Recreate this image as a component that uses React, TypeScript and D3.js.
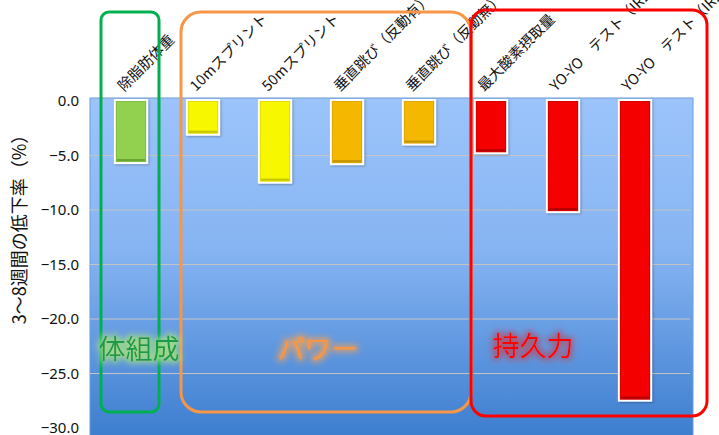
import React from "react";
import * as d3 from "d3";

const categories = [
  "除脂肪体重",
  "10mスプリント",
  "50mスプリント",
  "垂直跳び（反動有）",
  "垂直跳び（反動無）",
  "最大酸素摂取量",
  "YO-YO　テスト（IR2）",
  "YO-YO　テスト（IR2）",
];
const values = [-5.6, -3.0, -7.4, -5.7, -3.9, -4.7, -10.1, -27.4];
const barColors = ["#92D050", "#F7F700", "#F7F700", "#F5B800", "#F5B800", "#F50000", "#F50000", "#F50000"];
const bevelColors = ["#5E9A2C", "#B8B800", "#B8B800", "#B88A00", "#B88A00", "#A00000", "#A00000", "#A00000"];
const yTicks = [0, -5, -10, -15, -20, -25, -30];
const groups = [
  { name: "体組成", from: 0, to: 0, color: "#00B050", text: "#1A9A4A", glow: "#A6E27E" },
  { name: "パワー", from: 1, to: 4, color: "#F79646", text: "#F79646", glow: "#F7A050" },
  { name: "持久力", from: 5, to: 7, color: "#FF0000", text: "#FF0000", glow: "#B0506A" },
];

const W = 719;
const H = 435;
const plot = { left: 90, right: 693, top: 98, bottom: 436 };

export default function App() {
  const x = d3.scaleBand<number>().domain(d3.range(categories.length)).range([95, 671]).paddingInner(0.58).paddingOuter(0.29);
  const y = d3.scaleLinear().domain([-30, 0]).range([428, 101]);
  const bw = x.bandwidth();
  const cx = (i: number) => (x(i) as number) + bw / 2;
  const boxPad = [
    { l: 30, r: 28, t: 12, b: 412, rx: 8 },
    { l: 22, r: 52, t: 12, b: 412, rx: 20 },
    { l: 20, r: 72, t: 10, b: 416, rx: 15 },
  ];
  const labelPos = [
    { dx: 9, y: 350 },
    { dx: -8, y: 350 },
    { dx: -56, y: 347 },
  ];
  return (
    <svg width={W} height={H} style={{ position: "absolute", left: 0, top: 0, background: "#fff" }}
      fontFamily="'Noto Sans CJK JP', 'Noto Sans', sans-serif">
      <defs>
        <linearGradient id="bg" x1="0" y1="0" x2="0" y2="1">
          <stop offset="0" stopColor="#9CC4FB" />
          <stop offset="0.45" stopColor="#86B4F2" />
          <stop offset="1" stopColor="#3D7ECF" />
        </linearGradient>
        <filter id="shadow" x="-20%" y="-10%" width="150%" height="130%">
          <feDropShadow dx="1" dy="1" stdDeviation="1.2" floodColor="#000" floodOpacity="0.3" />
        </filter>
        {groups.map((g, i) => (
          <filter key={i} id={`glow${i}`} x="-30%" y="-60%" width="160%" height="220%">
            <feMorphology in="SourceAlpha" operator="dilate" radius="2" result="d" />
            <feGaussianBlur in="d" stdDeviation="3" result="b" />
            <feFlood floodColor={g.glow} floodOpacity="0.85" />
            <feComposite in2="b" operator="in" result="gl" />
            <feMerge>
              <feMergeNode in="gl" />
              <feMergeNode in="SourceGraphic" />
            </feMerge>
          </filter>
        ))}
      </defs>
      <rect x={plot.left} y={plot.top} width={plot.right - plot.left} height={plot.bottom - plot.top}
        fill="url(#bg)" stroke="#6F9BD6" strokeWidth={1} />
      {yTicks.filter((t) => t < 0 && t > -30).map((t) => (
        <line key={t} x1={plot.left} x2={plot.right - 3} y1={y(t)} y2={y(t)} stroke="#C4C4C4" strokeWidth={1.2} />
      ))}
      {yTicks.map((t) => (
        <text key={t} x={79} y={y(t)} dy="0.35em" textAnchor="end" fontSize={15} fill="#111"
          fontFamily="'Noto Sans', sans-serif">
          {t === 0 ? "0.0" : "\u2212" + Math.abs(t).toFixed(1)}
        </text>
      ))}
      <text transform={`translate(26,${225}) rotate(-90)`} textAnchor="middle" fontSize={18} fill="#111">
        3～8週間の低下率（%）
      </text>
      {values.map((v, i) => {
        const x0 = x(i) as number;
        const y0 = y(0);
        const y1 = y(v);
        return (
          <g key={i}>
            <rect x={x0 - 2} y={y0 - 2} width={bw + 4} height={y1 - y0 + 4} fill="#fff" filter="url(#shadow)" />
            <rect x={x0} y={y0} width={bw} height={y1 - y0} fill={barColors[i]} />
            <rect x={x0 + 0.5} y={y0 + 0.5} width={bw - 1} height={y1 - y0 - 1} fill="none"
              stroke={bevelColors[i]} strokeOpacity={0.35} strokeWidth={1} />
            <rect x={x0 + 1} y={y1 - 3} width={bw - 2} height={2} fill={bevelColors[i]} opacity={0.8} />
          </g>
        );
      })}
      {categories.map((c, i) => (
        <text key={i} transform={`translate(${cx(i) - 7},${92}) rotate(-45)`} fontSize={14.5} fill="#111">
          {c}
        </text>
      ))}
      {groups.map((g, i) => {
        const p = boxPad[i];
        const l = cx(g.from) - p.l;
        const r = Math.min(cx(g.to) + p.r, W - 10);
        return (
          <rect key={i} x={l} y={p.t} width={r - l} height={p.b - p.t} rx={p.rx} fill="none"
            stroke={g.color} strokeWidth={3} />
        );
      })}
      {groups.map((g, i) => {
        const l = cx(g.from) - boxPad[i].l;
        const r = Math.min(cx(g.to) + boxPad[i].r, W - 10);
        return (
          <text key={i} x={(l + r) / 2 + labelPos[i].dx} y={labelPos[i].y} textAnchor="middle" dy="0.35em"
            fontSize={27} fill={g.text} filter={`url(#glow${i})`}>
            {g.name}
          </text>
        );
      })}
    </svg>
  );
}
